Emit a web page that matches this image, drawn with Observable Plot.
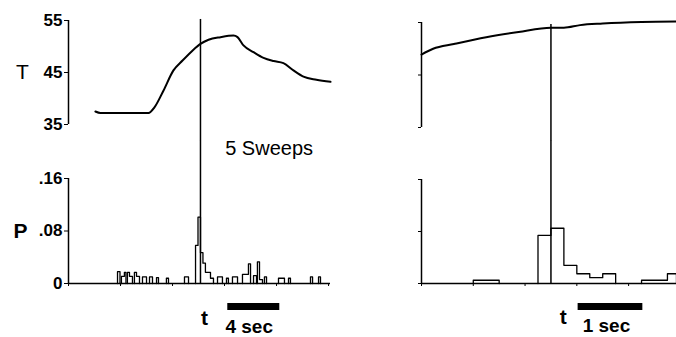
<!DOCTYPE html>
<html>
<head>
<meta charset="utf-8">
<script src="https://cdn.jsdelivr.net/npm/d3@7"></script>
<script src="https://cdn.jsdelivr.net/npm/@observablehq/plot@0.6"></script>
<style>
  html, body { margin: 0; padding: 0; background: #fff; }
  #wrap { position: relative; width: 676px; height: 337px; overflow: hidden; background: #fff; }
  #wrap svg { position: absolute; overflow: visible; }
</style>
</head>
<body>
<div id="wrap"></div>
<script>
// ---- data (time in seconds relative to stimulus t) ----
const leftTTime = [-8.08, -7.69, -4.0, -3.54, -2.85, -2.08, -1.38, -0.62, 0, 0.62, 1.54, 2.54, 2.85, 3.31, 4.08, 4.85, 5.62, 6.38, 7.15, 7.92, 8.92, 10.0];
const leftT     = [37.5, 37.2, 37.2, 38.3, 41.5, 45.4, 47.3, 49.2, 50.5, 51.3, 51.8, 52.1, 51.8, 50.2, 48.9, 47.8, 47.2, 46.8, 45.4, 44.2, 43.6, 43.2];

const rightTTime = [-2.0, -1.82, -1.5, -1.0, -0.5, 0, 0.2, 0.45, 0.8, 1.4, 1.94];
const rightT     = [48.9, 50.0, 50.9, 52.2, 53.2, 54.0, 54.0, 54.5, 54.8, 55.1, 55.2];

const leftBinStart = [-6.38, -6.08, -5.85, -5.62, -5.46, -5.08, -4.92, -4.46, -3.92, -3.38, -2.62, -1.23, -0.38, -0.19, 0, 0.19, 0.38, 0.77, 1.31, 2.0, 2.46, 3.23, 3.69, 4.08, 4.38, 4.54, 4.92, 6.0, 6.77, 8.46, 9.08];
const leftBinEnd   = [-6.19, -5.85, -5.73, -5.46, -5.23, -4.92, -4.69, -4.15, -3.69, -3.23, -2.46, -0.92, -0.19, 0, 0.19, 0.38, 0.77, 1.0, 1.69, 2.15, 2.85, 3.69, 3.85, 4.31, 4.54, 4.77, 5.08, 6.46, 6.92, 8.62, 9.23];
const leftP        = [0.018, 0.011, 0.017, 0.017, 0.011, 0.017, 0.011, 0.010, 0.010, 0.009, 0.008, 0.010, 0.058, 0.101, 0.047, 0.031, 0.017, 0.008, 0.010, 0.008, 0.010, 0.014, 0.030, 0.012, 0.033, 0.006, 0.010, 0.008, 0.008, 0.010, 0.010];

const rightBinStart = [-1.2, -0.2, 0, 0.2, 0.4, 0.6, 0.8, 1.4, 1.8];
const rightBinEnd   = [-0.8, 0, 0.2, 0.4, 0.6, 0.8, 1.0, 1.8, 1.94];
const rightP        = [0.005, 0.074, 0.085, 0.028, 0.015, 0.009, 0.015, 0.005, 0.015];

const tTicks = [35, 45, 55];
const pTicks = [0, 0.08, 0.16];
const pTickLabels = ["0", ".08", ".16"];
const leftXDomain = [-10.15, 10.0];
const rightXDomain = [-2.0, 1.94];
const leftXTicks = [-10.15, -6.15, -2.15, 1.85, 5.85, 9.85];
const rightXTicks = [-2.0, -1.2, -0.4, 0.4, 1.2];
const leftBar = [2.1, 6.1];
const rightBar = [0.42, 1.42];
const labels = { T: "T", P: "P", sweeps: "5 Sweeps", t: "t", left: "4 sec", right: "1 sec" };

// ---- build tables ----
const lt = leftTTime.map((x, i) => ({x, y: leftT[i]}));
const rt = rightTTime.map((x, i) => ({x, y: rightT[i]}));

// outline (step) path of a histogram from its bins
function outline(starts, ends, vals) {
  const pts = [];
  for (let i = 0; i < vals.length; i++) {
    const prevJoined = i > 0 && Math.abs(ends[i - 1] - starts[i]) < 1e-9;
    if (!prevJoined) pts.push({x: starts[i], y: 0, g: i});
    pts.push({x: starts[i], y: vals[i]});
    pts.push({x: ends[i], y: vals[i]});
    const nextJoined = i < vals.length - 1 && Math.abs(ends[i] - starts[i + 1]) < 1e-9;
    if (!nextJoined) pts.push({x: ends[i], y: 0}); else pts.push({x: ends[i], y: vals[i + 1]});
  }
  let g = 0;
  for (let i = 0; i < pts.length; i++) {
    if (pts[i].g !== undefined) g = pts[i].g;
    pts[i].grp = g;
  }
  return pts;
}
const lb = outline(leftBinStart, leftBinEnd, leftP);
const rb = outline(rightBinStart, rightBinEnd, rightP);

const FONT = "'Liberation Sans', Arial, Helvetica, sans-serif";
const style = {fontFamily: FONT, background: "transparent", color: "#000", overflow: "visible"};
const pfmt = d => pTickLabels[pTicks.indexOf(d)];

function place(svg, left, top) {
  svg.style.left = left + "px";
  svg.style.top = top + "px";
  document.getElementById("wrap").appendChild(svg);
}

// Left T
place(Plot.plot({
  width: 340, height: 140, marginLeft: 68, marginRight: 10, marginTop: 20, marginBottom: 16,
  style,
  x: {domain: leftXDomain, axis: null},
  y: {domain: [35, 55]},
  marks: [
    Plot.ruleX([leftXDomain[0]], {y1: 35, y2: 55, strokeWidth: 1.5}),
    Plot.axisY(tTicks, {tickSize: 4, tickPadding: 2, fontSize: 17, fontWeight: "bold", label: null, tickFormat: d => String(d)}),
    Plot.text([labels.T], {x: leftXDomain[0], y: 45, dx: -46, fontSize: 21}),
    Plot.line(lt, {x: "x", y: "y", strokeWidth: 2, curve: "monotone-x"}),
    Plot.ruleX([0], {y1: 55.2, y2: 31.9, strokeWidth: 1.5})
  ]
}), 0, 0);

// Left P
place(Plot.plot({
  width: 340, height: 197, marginLeft: 68, marginRight: 10, marginTop: 38, marginBottom: 54,
  style,
  x: {domain: leftXDomain},
  y: {domain: [0, 0.16]},
  marks: [
    Plot.ruleX([leftXDomain[0]], {y1: 0, y2: 0.16, strokeWidth: 1.5}),
    Plot.axisY(pTicks, {tickSize: 4, tickPadding: 2, fontSize: 17, fontWeight: "bold", label: null, tickFormat: pfmt}),
    Plot.axisX(leftXTicks, {tickSize: 3, label: null, tickFormat: () => ""}),
    Plot.text([labels.P], {x: leftXDomain[0], y: 0.08, dx: -48, fontSize: 21, fontWeight: "bold"}),
    Plot.line(lb, {x: "x", y: "y", z: "grp", stroke: "#000", strokeWidth: 1.3}),
    Plot.ruleY([0], {x1: leftXDomain[0], x2: leftXDomain[1], strokeWidth: 1.5}),
    Plot.ruleX([0], {y1: 0.218, y2: 0, strokeWidth: 1.5}),
    Plot.text([labels.sweeps], {x: 1.9, y: 0.16, dy: -30, textAnchor: "start", fontSize: 20, letterSpacing: 1.2}),
    Plot.ruleY([0], {x1: leftBar[0], x2: leftBar[1], dy: 23, strokeWidth: 7}),
    Plot.text([labels.t], {x: 0, y: 0, dx: 4, dy: 35, fontSize: 21, fontWeight: "bold"}),
    Plot.text([labels.left], {x: 1.92, y: 0, dy: 43, textAnchor: "start", fontSize: 19, fontWeight: "bold", letterSpacing: 1.8})
  ]
}), 0, 140);

// Right T
place(Plot.plot({
  width: 336, height: 140, marginLeft: 81, marginRight: 0, marginTop: 22, marginBottom: 13,
  style,
  x: {domain: rightXDomain, axis: null},
  y: {domain: [35, 55]},
  marks: [
    Plot.ruleX([rightXDomain[0]], {y1: 35, y2: 55, strokeWidth: 1.5}),
    Plot.axisY(tTicks, {tickSize: 3, label: null, tickFormat: () => ""}),
    Plot.line(rt, {x: "x", y: "y", strokeWidth: 2, curve: "monotone-x"}),
    Plot.ruleX([0], {y1: 54.6, y2: 32.5, strokeWidth: 1.5})
  ]
}), 340, 0);

// Right P
place(Plot.plot({
  width: 336, height: 197, marginLeft: 81, marginRight: 0, marginTop: 39, marginBottom: 54,
  style,
  x: {domain: rightXDomain},
  y: {domain: [0, 0.16]},
  marks: [
    Plot.ruleX([rightXDomain[0]], {y1: 0, y2: 0.16, strokeWidth: 1.5}),
    Plot.axisY(pTicks, {tickSize: 3, label: null, tickFormat: () => ""}),
    Plot.axisX(rightXTicks, {tickSize: 3, label: null, tickFormat: () => ""}),
    Plot.line(rb, {x: "x", y: "y", z: "grp", stroke: "#000", strokeWidth: 1.3}),
    Plot.ruleY([0], {x1: rightXDomain[0], x2: rightXDomain[1], strokeWidth: 1.5}),
    Plot.ruleX([0], {y1: 0.22, y2: 0, strokeWidth: 1.5}),
    Plot.ruleY([0], {x1: rightBar[0], x2: rightBar[1], dy: 23, strokeWidth: 7}),
    Plot.text([labels.t], {x: 0.19, y: 0, dy: 34, fontSize: 21, fontWeight: "bold"}),
    Plot.text([labels.right], {x: 0.49, y: 0, dy: 42, textAnchor: "start", fontSize: 19, fontWeight: "bold", letterSpacing: 1.8})
  ]
}), 340, 140);
</script>
</body>
</html>
